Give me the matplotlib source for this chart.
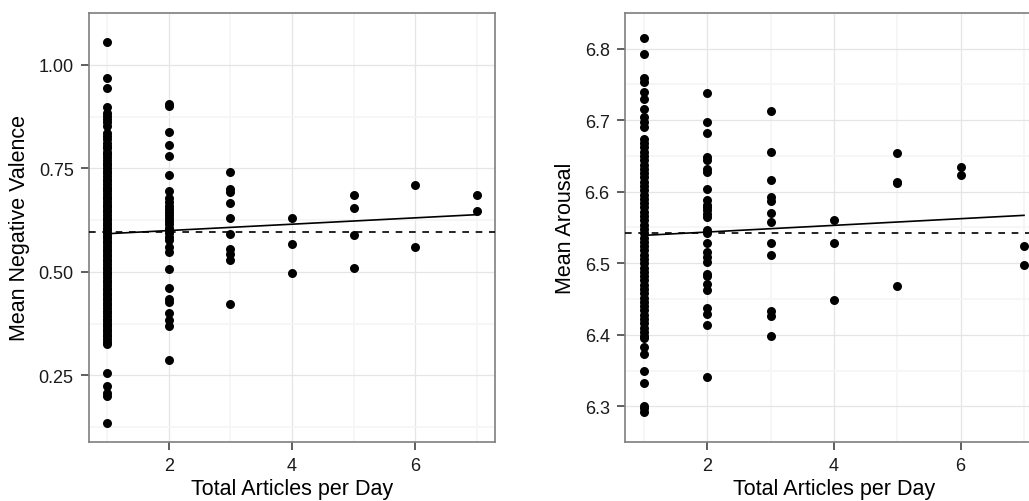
import matplotlib
matplotlib.use("Agg")
import matplotlib.pyplot as plt
import numpy as np

plt.rcParams['font.family'] = ['Liberation Sans', 'DejaVu Sans']

# values, one list per column of points
neg_x1 = [1.054, 0.969, 0.945, 0.899, 0.884, 0.876, 0.868, 0.861, 0.852, 0.835,
          0.828, 0.820, 0.812, 0.805, 0.798, 0.790, 0.784, 0.777, 0.770, 0.763,
          0.757, 0.750, 0.744, 0.738, 0.731, 0.725, 0.719, 0.712, 0.706, 0.700,
          0.694, 0.688, 0.681, 0.675, 0.669, 0.662, 0.656, 0.650, 0.644, 0.637,
          0.631, 0.625, 0.619, 0.612, 0.606, 0.600, 0.594, 0.587, 0.581, 0.575,
          0.569, 0.562, 0.556, 0.550, 0.544, 0.537, 0.531, 0.525, 0.519, 0.512,
          0.506, 0.500, 0.494, 0.487, 0.481, 0.475, 0.469, 0.462, 0.456, 0.450,
          0.444, 0.437, 0.431, 0.425, 0.419, 0.412, 0.406, 0.400, 0.394, 0.387,
          0.381, 0.375, 0.369, 0.362, 0.356, 0.350, 0.344, 0.337, 0.331, 0.325,
          0.256, 0.225, 0.208, 0.200, 0.135]
neg_x2 = [0.905, 0.900, 0.837, 0.806, 0.780, 0.734, 0.694, 0.678, 0.668, 0.660,
          0.652, 0.645, 0.637, 0.630, 0.622, 0.615, 0.607, 0.600, 0.593, 0.585,
          0.578, 0.560, 0.548, 0.507, 0.462, 0.434, 0.427, 0.400, 0.383, 0.370,
          0.286]
neg_x3 = [0.741, 0.700, 0.692, 0.665, 0.631, 0.591, 0.556, 0.544, 0.529, 0.423]
neg_x4 = [0.631, 0.567, 0.496]
neg_x5 = [0.685, 0.654, 0.589, 0.510]
neg_x6 = [0.710, 0.560]
neg_x7 = [0.685, 0.647]
neg_fit = [0.592, 0.638]   # fitted line at x = 1 and x = 7
neg_mean = 0.596

aro_x1 = [6.815, 6.793, 6.759, 6.754, 6.740, 6.730, 6.716, 6.705, 6.698, 6.690,
          6.674, 6.668, 6.662, 6.656, 6.650, 6.644, 6.638, 6.632, 6.626, 6.620,
          6.614, 6.608, 6.602, 6.596, 6.590, 6.584, 6.578, 6.572, 6.566, 6.560,
          6.554, 6.548, 6.542, 6.536, 6.530, 6.524, 6.518, 6.512, 6.506, 6.500,
          6.494, 6.488, 6.482, 6.476, 6.470, 6.464, 6.458, 6.452, 6.446, 6.440,
          6.434, 6.428, 6.422, 6.416, 6.410, 6.404, 6.398, 6.395, 6.383, 6.373,
          6.349, 6.333, 6.300, 6.297, 6.292]
aro_x2 = [6.738, 6.697, 6.682, 6.649, 6.645, 6.632, 6.627, 6.604, 6.589, 6.582,
          6.569, 6.579, 6.574, 6.565, 6.547, 6.542, 6.529, 6.516, 6.509, 6.502,
          6.485, 6.482, 6.471, 6.463, 6.438, 6.429, 6.414, 6.341]
aro_x3 = [6.713, 6.656, 6.617, 6.592, 6.587, 6.570, 6.558, 6.529, 6.511, 6.433,
          6.426, 6.398]
aro_x4 = [6.561, 6.528, 6.448]
aro_x5 = [6.654, 6.614, 6.612, 6.468]
aro_x6 = [6.634, 6.624]
aro_x7 = [6.524, 6.498]
aro_fit = [6.539, 6.567]
aro_mean = 6.542

fit_x = [1, 7]
x_ticks = [2, 4, 6]
neg_ticks = [0.25, 0.50, 0.75, 1.00]
aro_ticks = [6.3, 6.4, 6.5, 6.6, 6.7, 6.8]


def draw_panel(ax, cols, fit, mean, yticks, ylabel, fmt):
    for i, col in enumerate(cols):
        ax.scatter([i + 1] * len(col), col, s=42, c="black", lw=0, zorder=3)
    ax.plot(fit_x, fit, c="black", lw=1.2, zorder=4)
    ax.axhline(mean, c="black", lw=1.2, ls=(0, (4, 4)), zorder=4)
    allv = np.concatenate([np.array(c) for c in cols])
    pad = (allv.max() - allv.min()) * 0.05
    ax.set_ylim(allv.min() - pad, allv.max() + pad)
    ax.set_xlim(0.7, 7.3)
    ax.set_xticks(x_ticks)
    ax.set_xticks([1, 3, 5, 7], minor=True)
    ax.set_yticks(yticks)
    ax.set_yticklabels([fmt % v for v in yticks])
    step = yticks[1] - yticks[0]
    ax.set_yticks([v + step / 2 for v in [yticks[0] - step] + yticks], minor=True)
    ax.grid(True, which="major", color="#e5e5e5", lw=0.9, zorder=0)
    ax.grid(True, which="minor", color="#f5f5f5", lw=1.2, zorder=0)
    ax.set_axisbelow(True)
    for sp in ax.spines.values():
        sp.set_color("#7f7f7f")
        sp.set_linewidth(1.2)
    ax.tick_params(which="major", length=6, width=1.1, color="#333333",
                   labelsize=13, labelcolor="#1a1a1a", pad=5)
    ax.tick_params(which="minor", length=0)
    ax.set_xlabel("Total Articles per Day", fontsize=15.5, labelpad=3)
    ax.set_ylabel(ylabel, fontsize=15.5, labelpad=6)


fig = plt.figure(figsize=(10.29, 5.02), dpi=100)
ax1 = fig.add_axes([89 / 1029, 59 / 502, 406 / 1029, 429 / 502])
ax2 = fig.add_axes([625 / 1029, 59 / 502, 418 / 1029, 429 / 502])

draw_panel(ax1, [neg_x1, neg_x2, neg_x3, neg_x4, neg_x5, neg_x6, neg_x7],
           neg_fit, neg_mean, neg_ticks, "Mean Negative Valence", "%.2f")
draw_panel(ax2, [aro_x1, aro_x2, aro_x3, aro_x4, aro_x5, aro_x6, aro_x7],
           aro_fit, aro_mean, aro_ticks, "Mean Arousal", "%.1f")

fig.savefig("out.png", dpi=100)
